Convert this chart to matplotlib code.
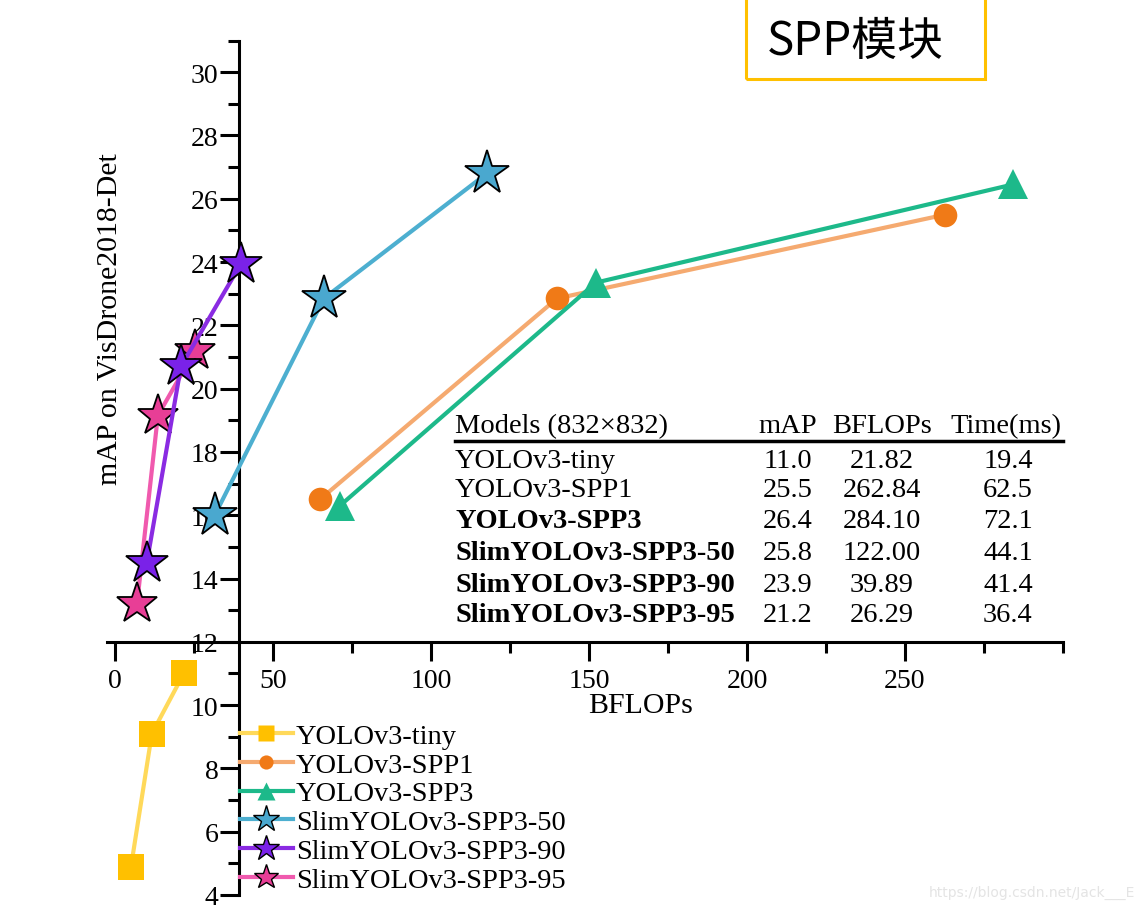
import matplotlib.pyplot as plt
from matplotlib.lines import Line2D
from matplotlib.patches import Rectangle
from matplotlib.ticker import MultipleLocator

plt.rcParams['font.family'] = ['Liberation Serif', 'DejaVu Serif']

# series (BFLOPs, mAP)
tiny_x = [5.1, 11.7, 21.8]
tiny_y = [4.9, 9.1, 11.0]
spp1_x = [64.9, 139.9, 262.8]
spp1_y = [16.5, 22.85, 25.5]
spp3_x = [71.2, 152.2, 284.1]
spp3_y = [16.3, 23.35, 26.45]
slim50_x = [31.6, 66.1, 117.7]
slim50_y = [16.0, 22.85, 26.8]
slim90_x = [10.1, 20.9, 39.9]
slim90_y = [14.5, 20.7, 23.95]
slim95_x = [7.0, 13.6, 25.3]
slim95_y = [13.2, 19.15, 21.2]

# table in the plot
table_header = ['Models (832×832)', 'mAP', 'BFLOPs', 'Time(ms)']
table_models = ['YOLOv3-tiny', 'YOLOv3-SPP1', 'YOLOv3-SPP3',
                'SlimYOLOv3-SPP3-50', 'SlimYOLOv3-SPP3-90', 'SlimYOLOv3-SPP3-95']
table_map = ['11.0', '25.5', '26.4', '25.8', '23.9', '21.2']
table_bflops = ['21.82', '262.84', '284.10', '122.00', '39.89', '26.29']
table_time = ['19.4', '62.5', '72.1', '44.1', '41.4', '36.4']
table_bold = [False, False, True, True, True, True]

W, H = 1143, 912
fig = plt.figure(figsize=(W / 100, H / 100), dpi=100)


def fx(px):
    return px / W


def fy(py):
    return 1 - py / H


ax = fig.add_axes([fx(107), fy(896), fx(1063) - fx(107), fy(41.5) - fy(896)])
ax.set_xlim(-2.5, 300)
ax.set_ylim(4, 31)
ax.patch.set_alpha(0)

series = [
    ('YOLOv3-tiny', tiny_x, tiny_y, 's', '#FFC000', '#FFD95A', 19, 'none'),
    ('YOLOv3-SPP1', spp1_x, spp1_y, 'o', '#F07A17', '#F5AA70', 17, 'none'),
    ('YOLOv3-SPP3', spp3_x, spp3_y, '^', '#1DB98A', '#1DB98A', 21, 'none'),
    ('SlimYOLOv3-SPP3-50', slim50_x, slim50_y, '*', '#4AA8CF', '#4DAFD0', 33, 'black'),
    ('SlimYOLOv3-SPP3-95', slim95_x, slim95_y, '*', '#E83E96', '#F05AAE', 31, 'black'),
    ('SlimYOLOv3-SPP3-90', slim90_x, slim90_y, '*', '#7A22E8', '#8A2BE2', 32, 'black'),
]
handles = {}
for k, (name, xs, ys, mk, mc, lc, ms, ec) in enumerate(series):
    ax.plot(xs, ys, '-', color=lc, lw=3, zorder=2 + k, clip_on=False)
    ax.plot(xs, ys, linestyle='none', marker=mk, markersize=ms, markerfacecolor=mc,
            markeredgecolor=ec, markeredgewidth=1.3, zorder=2 + k, clip_on=False)
    handles[name] = Line2D([], [], color=lc, lw=3, marker=mk, markersize=ms * 0.6,
                           markerfacecolor=mc, markeredgecolor=ec, markeredgewidth=1.0)

# axes crossing in the middle
for s in ['top', 'right']:
    ax.spines[s].set_visible(False)
ax.spines['left'].set_position(('data', 39.3))
ax.spines['bottom'].set_position(('data', 12))
ax.spines['left'].set_linewidth(2.2)
ax.spines['bottom'].set_linewidth(2.2)
ax.spines['left'].set_bounds(4, 31)
ax.spines['bottom'].set_bounds(-2.5, 300)

ax.xaxis.set_minor_locator(MultipleLocator(25))
ax.yaxis.set_minor_locator(MultipleLocator(1))
ax.set_xticks([0, 50, 100, 150, 200, 250])
ax.set_yticks(range(4, 31, 2))
ax.tick_params(which='major', direction='out', length=14, width=2.2, labelsize=20, pad=1)
ax.tick_params(which='minor', direction='out', length=8, width=2.2)
ax.tick_params(axis='x', which='major', pad=5)

fig.text(fx(641), fy(706), 'BFLOPs', fontsize=21.5, ha='center', va='center')
fig.text(fx(110), fy(319), 'mAP on VisDrone2018-Det', fontsize=21.5, rotation=90,
         ha='center', va='center')

order = ['YOLOv3-tiny', 'YOLOv3-SPP1', 'YOLOv3-SPP3',
         'SlimYOLOv3-SPP3-50', 'SlimYOLOv3-SPP3-90', 'SlimYOLOv3-SPP3-95']
ax.legend([handles[n] for n in order], order, loc='upper left',
          bbox_to_anchor=(fx(240), fy(724)), bbox_transform=fig.transFigure,
          frameon=False, fontsize=20.5, handlelength=1.85, handletextpad=0.12,
          labelspacing=0.1, borderpad=0, borderaxespad=0)

# table
fs = 20.5
fig.text(fx(455), fy(427), table_header[0], fontsize=fs, va='center', ha='left')
fig.text(fx(788), fy(427), table_header[1], fontsize=fs, va='center', ha='center')
fig.text(fx(882), fy(427), table_header[2], fontsize=fs, va='center', ha='center')
fig.text(fx(1006), fy(427), table_header[3], fontsize=fs, va='center', ha='center')
fig.add_artist(Line2D([fx(455), fx(1063)], [fy(442), fy(442)], color='black', lw=2.5))
row_y = [461, 491, 522, 554, 585, 616]
for i, y in enumerate(row_y):
    fig.text(fx(455), fy(y), table_models[i], fontsize=fs, va='center', ha='left',
             fontweight='bold' if table_bold[i] else 'normal')
    fig.text(fx(788), fy(y), table_map[i], fontsize=fs, va='center', ha='center')
    fig.text(fx(882), fy(y), table_bflops[i], fontsize=fs, va='center', ha='center')
    fig.text(fx(1008), fy(y), table_time[i], fontsize=fs, va='center', ha='center')

# slide title box
fig.add_artist(Rectangle((fx(746), fy(80)), fx(985) - fx(746), fy(-5) - fy(80),
                         transform=fig.transFigure, fill=False,
                         edgecolor='#FFC000', lw=2.2))
fig.text(fx(767), fy(42), 'SPP模块', fontsize=33, va='center', ha='left',
         family=['Noto Sans CJK SC', 'DejaVu Sans'])

fig.text(fx(1135), fy(893), 'https://blog.csdn.net/Jack___E', fontsize=10,
         color='#e4e4e4', ha='right', va='center', family=['DejaVu Sans'])

fig.savefig('out.png', dpi=100)
